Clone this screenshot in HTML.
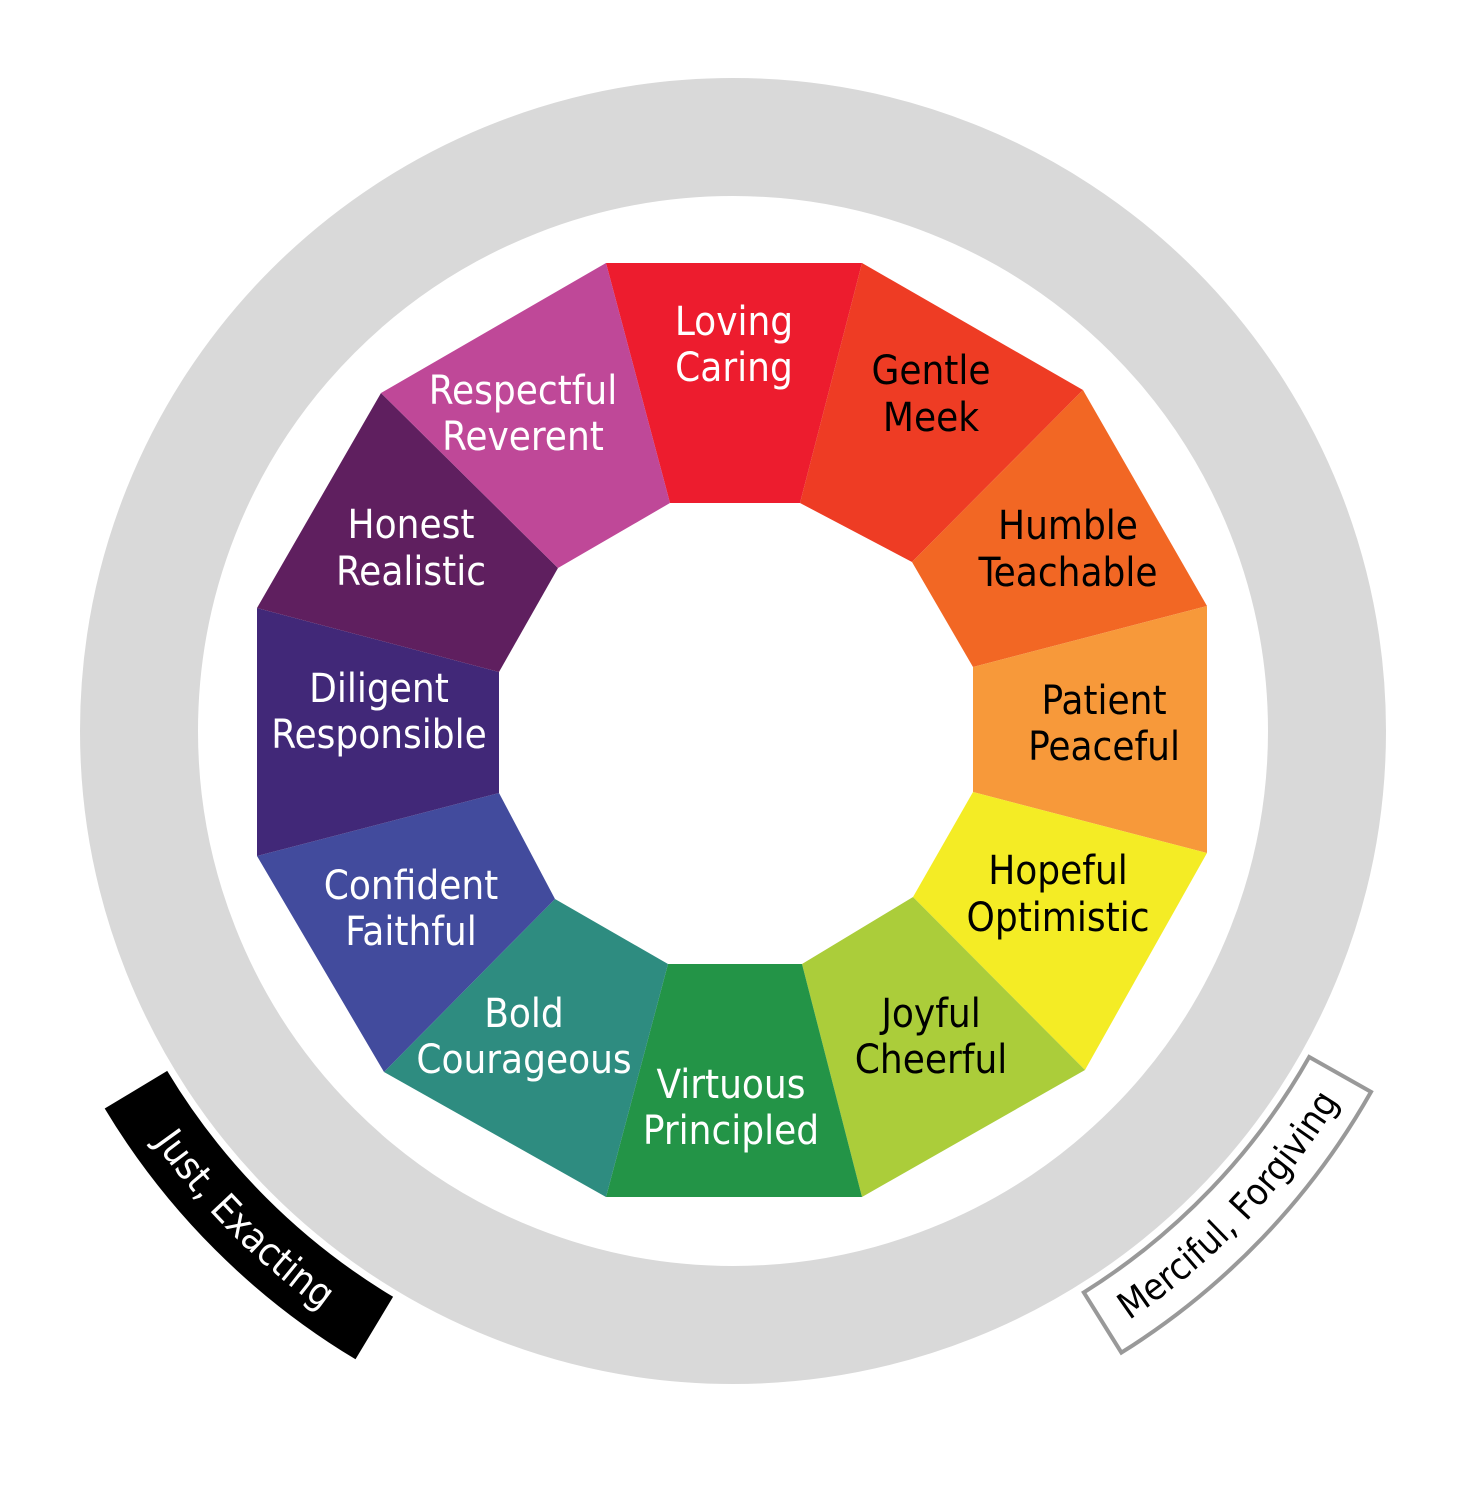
<!DOCTYPE html>
<html><head><meta charset="utf-8"><style>
html,body{margin:0;padding:0;background:#fff;}
svg{display:block;}
text{font-family:"DejaVu Sans Condensed","DejaVu Sans","Liberation Sans",sans-serif;font-size:40px;text-anchor:middle;}
</style></head><body>
<svg width="1472" height="1503" viewBox="0 0 1472 1503" xmlns="http://www.w3.org/2000/svg">
<circle cx="733" cy="731" r="594" fill="none" stroke="#D9D9D9" stroke-width="118"/>
<polygon points="606,263 862,263 800,503 670,503" fill="#ED1C2E"/>
<polygon points="862,263 1083,390 912,562 800,503" fill="#EE3C24"/>
<polygon points="1083,390 1207,606 973,667 912,562" fill="#F26724"/>
<polygon points="1207,606 1207,853 973,792 973,667" fill="#F7993A"/>
<polygon points="1207,853 1085,1070 913,897 973,792" fill="#F4EC25"/>
<polygon points="1085,1070 862,1197 802,964 913,897" fill="#ABCD3A"/>
<polygon points="862,1197 606,1197 668,964 802,964" fill="#239447"/>
<polygon points="606,1197 384,1072 555,899 668,964" fill="#2E8C80"/>
<polygon points="384,1072 257,856 499,793 555,899" fill="#424B9D"/>
<polygon points="257,856 257,608 499,672 499,793" fill="#412878"/>
<polygon points="257,608 381,393 558,568 499,672" fill="#5F1F5F"/>
<polygon points="381,393 606,263 670,503 558,568" fill="#BF4898"/>
<g fill="#fff">
<text x="734" y="335">Loving</text><text x="734" y="381">Caring</text>
<text x="731" y="1098">Virtuous</text><text x="731" y="1144">Principled</text>
<text x="524" y="1027">Bold</text><text x="524" y="1073">Courageous</text>
<text x="411" y="899">Confident</text><text x="411" y="945">Faithful</text>
<text x="379" y="702">Diligent</text><text x="379" y="748">Responsible</text>
<text x="411" y="538">Honest</text><text x="411" y="585">Realistic</text>
<text x="523" y="404">Respectful</text><text x="523" y="450">Reverent</text>
</g>
<g fill="#000">
<text x="931" y="384">Gentle</text><text x="931" y="431">Meek</text>
<text x="1068" y="539">Humble</text><text x="1068" y="586">Teachable</text>
<text x="1104" y="714">Patient</text><text x="1104" y="760">Peaceful</text>
<text x="1058" y="884">Hopeful</text><text x="1058" y="931">Optimistic</text>
<text x="931" y="1027">Joyful</text><text x="931" y="1073">Cheerful</text>
</g>
<defs>
<path id="pj" d="M124.4,1096.7 A710 710 0 0 0 367.3,1339.6"/>
<path id="pm" d="M1109.2,1333.1 A710 710 0 0 0 1351,1080.6"/>
</defs>
<path d="M104.7,1108.5 A733 733 0 0 0 355.5,1359.3 L393.1,1296.8 A660 660 0 0 1 167.2,1070.9 Z" fill="#000"/>
<path d="M1121.4,1352.6 A733 733 0 0 0 1371,1091.9 L1309.2,1057 A662 662 0 0 1 1083.8,1292.4 Z" fill="#fff" stroke="#999" stroke-width="4"/>
<text fill="#fff" style="font-size:39px"><textPath href="#pj" startOffset="50%">Just, Exacting</textPath></text>
<text fill="#000" style="font-size:37px"><textPath href="#pm" startOffset="50%">Merciful, Forgiving</textPath></text>
</svg>
</body></html>
